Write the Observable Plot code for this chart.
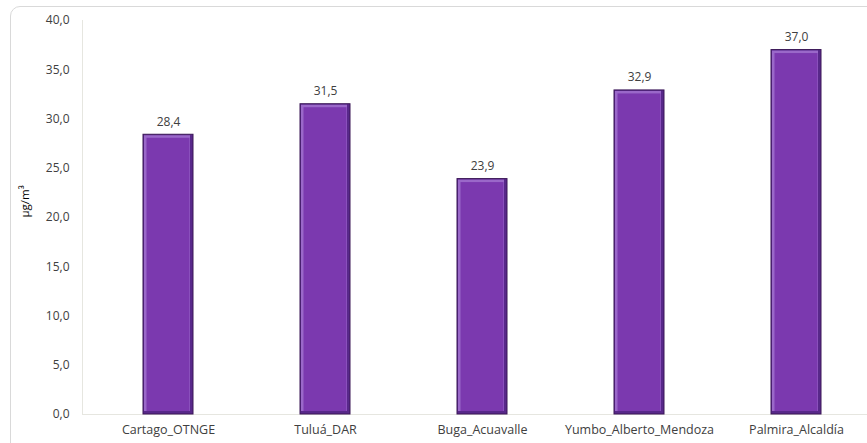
<!DOCTYPE html>
<html><head><meta charset="utf-8">
<script src="https://cdn.jsdelivr.net/npm/d3@7"></script>
<script src="https://cdn.jsdelivr.net/npm/@observablehq/plot@0.6"></script>
<style>
body{margin:0;background:#fff;font-family:"Open Sans",sans-serif;}
#wrap{position:relative;width:867px;height:443px;overflow:hidden;}
#border{position:absolute;left:10px;top:6px;width:870px;height:450px;border:1px solid #d9d9d9;border-radius:10px;box-sizing:border-box;}
#chart{position:absolute;left:0;top:0;}
</style></head>
<body>
<div id="wrap"><div id="border"></div><div id="chart"></div></div>
<script>
const stations = ["Cartago_OTNGE","Tuluá_DAR","Buga_Acuavalle","Yumbo_Alberto_Mendoza","Palmira_Alcaldía"];
const values = [28.4, 31.5, 23.9, 32.9, 37.0];
const yTicks = [0,5,10,15,20,25,30,35,40];
const data = stations.map((s,i)=>({station:s, value:values[i]}));
const fmt = d => d.toFixed(1).replace(".", ",");

const chart = Plot.plot({
  width: 867, height: 443,
  marginLeft: 82, marginRight: 0, marginTop: 20, marginBottom: 29,
  style: {fontFamily: "Open Sans, sans-serif", fontSize: "12px", color: "#404040", background: "transparent", overflow: "visible"},
  x: {domain: stations, range: [89, 876], paddingInner: 0.68, paddingOuter: 0.34, label: null, tickSize: 0, tickPadding: 11},
  y: {domain: [0,40], ticks: yTicks, tickFormat: fmt, label: null, tickSize: 0, tickPadding: 13},
  marks: [
    Plot.ruleY([0], {stroke: "#e6e6e0"}),
    Plot.barY(data, {x: "station", y: "value", fill: "#58288a", stroke: "#3a1656", strokeWidth: 1}),
    Plot.barY(data, {x: "station", y: "value", fill: "#9a68c9", insetLeft: 1, insetRight: 3, insetTop: 1, insetBottom: 3}),
    Plot.barY(data, {x: "station", y: "value", fill: "#7b39af", insetLeft: 3.5, insetRight: 3.5, insetTop: 3.5, insetBottom: 3}),
    Plot.text(data, {x: "station", y: "value", text: d => fmt(d.value), dy: -13, fill: "#404040", fontSize: 12}),
    Plot.text(["µg/m³"], {frameAnchor: "left", dx: -57, rotate: -90, fill: "#000", fontSize: 11.5})
  ]
});
chart.querySelectorAll("[aria-label='x-axis tick label'] text").forEach(t => t.style.fontSize = "12.5px");
document.getElementById("chart").appendChild(chart);
const svg = d3.select(chart);
svg.insert("line", ":first-child").attr("x1", 82.5).attr("x2", 82.5).attr("y1", 20).attr("y2", 414).attr("stroke", "#e6e6e0");
</script>
</body></html>
